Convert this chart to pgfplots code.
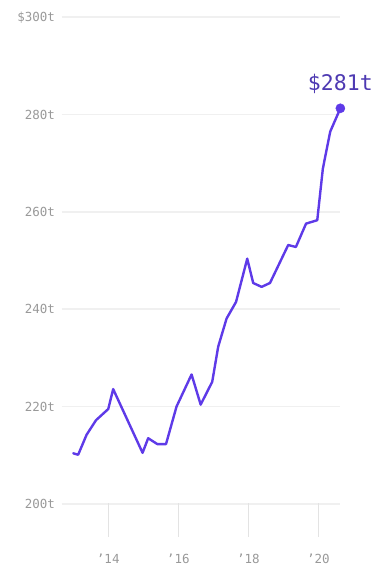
\documentclass[border=0pt]{standalone}
\usepackage{pgfplots}
\pgfplotsset{compat=1.18}
\usepackage{fontspec}
\newfontfamily\monof{DejaVu Sans Mono}
\definecolor{lineC}{RGB}{94,58,232}
\definecolor{labC}{RGB}{78,58,178}
\definecolor{gridC}{RGB}{240,240,240}
\definecolor{tickC}{RGB}{153,153,153}
\begin{document}
\begin{tikzpicture}
\useasboundingbox (-61.7pt,-28pt) rectangle (314.3pt,537pt);
\begin{axis}[
  scale only axis,
  width=278.3pt, height=519.7pt,
  xmin=2012.67, xmax=2020.62,
  ymin=193.2, ymax=300,
  clip=false,
  axis line style={draw=none},
  xtick={2014,2016,2018,2020},
  xticklabels={’14,’16,’18,’20},
  ytick={200,220,240,260,280,300},
  yticklabels={200t,220t,240t,260t,280t,\$300t},
  ymajorgrids,
  grid style={gridC, line width=1.6pt},
  ytick style={draw=none},
  xtick style={draw=gray!22, line width=0.8pt},
  major tick length=34pt,
  tick align=inside,
  xtick pos=lower,
  ytick pos=left,
  xticklabel style={anchor=base, inner sep=0pt, yshift=-26pt, font=\monof\fontsize{12.5}{14}\selectfont, text=tickC},
  yticklabel style={anchor=base east, inner sep=0pt, xshift=-6.5pt, yshift=-4.7pt, font=\monof\fontsize{12.5}{14}\selectfont, text=tickC},
]
\addplot[lineC, line width=2.4pt, line join=round, line cap=round] coordinates {
(2013.00,210.4)
(2013.14,210.1)
(2013.38,214.2)
(2013.65,217.2)
(2014.00,219.5)
(2014.14,223.6)
(2014.98,210.5)
(2015.14,213.5)
(2015.40,212.3)
(2015.65,212.3)
(2015.95,220.0)
(2016.38,226.6)
(2016.64,220.4)
(2016.97,225.1)
(2017.14,232.3)
(2017.38,238.1)
(2017.65,241.5)
(2017.97,250.4)
(2018.14,245.4)
(2018.38,244.6)
(2018.62,245.4)
(2019.14,253.2)
(2019.36,252.8)
(2019.65,257.6)
(2019.97,258.3)
(2020.13,268.9)
(2020.34,276.5)
(2020.63,281.3)
};
\addplot[only marks, mark=*, mark size=4.6pt, lineC,
  nodes near coords={\$281t},
  nodes near coords style={anchor=base, inner sep=0pt, yshift=17.5pt, font=\monof\fontsize{21.5}{24}\selectfont, text=labC}]
  coordinates {(2020.63,281.3)};
\end{axis}
\end{tikzpicture}
\end{document}
